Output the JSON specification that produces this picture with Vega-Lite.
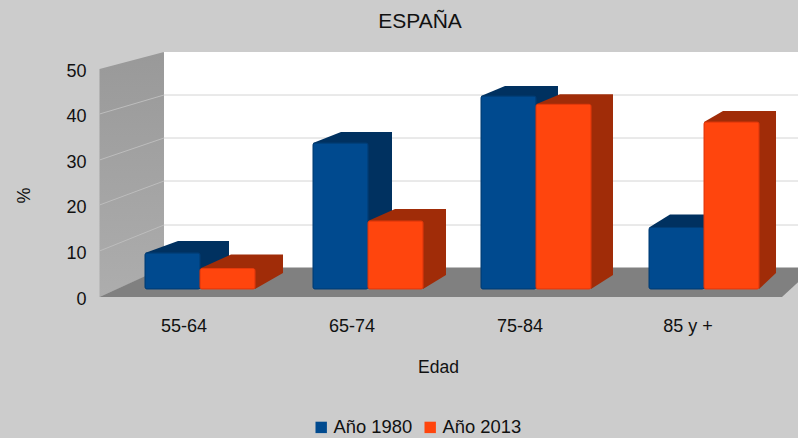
{"$schema":"https://vega.github.io/schema/vega-lite/v6.json","width":672,"height":228,"autosize":"none","padding":{"left":100,"right":26,"top":68,"bottom":142},"background":"#cccccc","config":{"view":{"stroke":null},"font":"Liberation Sans"},"title":{"text":"ESPAÑA","anchor":"middle","dx":-16,"offset":20,"fontSize":21,"fontWeight":"normal","color":"#111111","font":"Liberation Sans"},"datasets":{"barras":[{"Edad":"55-64","Serie":"Año 1980","Valor":7.9},{"Edad":"55-64","Serie":"Año 2013","Valor":4.5},{"Edad":"65-74","Serie":"Año 1980","Valor":32.0},{"Edad":"65-74","Serie":"Año 2013","Valor":14.9},{"Edad":"75-84","Serie":"Año 1980","Valor":42.3},{"Edad":"75-84","Serie":"Año 2013","Valor":40.5},{"Edad":"85 y +","Serie":"Año 1980","Valor":13.5},{"Edad":"85 y +","Serie":"Año 2013","Valor":36.6}],"ancla":[{"parte":"escena"}]},"resolve":{"scale":{"x":"independent","y":"independent","xOffset":"independent"}},"layer":[{"layer":[{"data":{"name":"ancla"},"mark":{"type":"point","shape":"M-21 -244L620 -244L620 -28L-21 -28Z","size":4,"filled":true,"fill":"#ffffff","opacity":1},"encoding":{"x":{"datum":"55-64","type":"nominal","scale":{"type":"band","domain":["55-64","65-74","75-84","85 y +"],"paddingInner":0,"paddingOuter":0},"axis":{"title":"Edad","titleFontSize":17.5,"titleFontWeight":"normal","titleColor":"#111111","titleX":338,"titleY":71,"titleBaseline":"middle","labelFontSize":18,"labelColor":"#111111","labelAngle":0,"labelBaseline":"middle","labelPadding":30,"ticks":false,"domain":false,"grid":false}},"y":{"datum":0,"type":"quantitative","scale":{"domain":[0,50]},"axis":{"title":"%","titleFontSize":18,"titleFontWeight":"normal","titleColor":"#111111","titleX":-76,"titleY":127,"titleAlign":"center","titleBaseline":"middle","values":[0,10,20,30,40,50],"labelFontSize":18,"labelColor":"#111111","labelPadding":14,"labelOffset":3,"ticks":false,"domain":false,"grid":false}}}},{"data":{"name":"ancla"},"mark":{"type":"point","shape":"M-84.5 -227L-20 -244L-20 -28L-84.5 1Z","size":4,"filled":true,"opacity":1,"fill":{"gradient":"linear","x1":0,"y1":0,"x2":0,"y2":1,"stops":[{"offset":0,"color":"#999999"},{"offset":1,"color":"#adadad"}]}},"encoding":{"x":{"datum":"55-64","type":"nominal"},"y":{"datum":0,"type":"quantitative"}}},{"data":{"name":"ancla"},"mark":{"type":"point","shape":"M-84.5 1L-20 -28.5L630 -28.5L598 1Z","size":4,"filled":true,"fill":"#808080","opacity":1},"encoding":{"x":{"datum":"55-64","type":"nominal"},"y":{"datum":0,"type":"quantitative"}}},{"data":{"name":"ancla"},"mark":{"type":"point","shape":"M-20 -201L620 -201M-20 -158L620 -158M-20 -115L620 -115M-20 -71L620 -71","size":4,"filled":false,"stroke":"#d4d4d4","strokeWidth":1,"opacity":1},"encoding":{"x":{"datum":"55-64","type":"nominal"},"y":{"datum":0,"type":"quantitative"}}},{"data":{"name":"ancla"},"mark":{"type":"point","shape":"M-84.5 -182L-20 -201M-84.5 -136L-20 -158M-84.5 -91L-20 -115M-84.5 -45L-20 -71","size":4,"filled":false,"stroke":"#bdbdbd","strokeWidth":1,"opacity":1},"encoding":{"x":{"datum":"55-64","type":"nominal"},"y":{"datum":0,"type":"quantitative"}}},{"data":{"name":"barras"},"transform":[{"calculate":"datum.Edad + ' ' + datum.Serie","as":"barra"},{"filter":"datum.Serie == 'Año 1980'"}],"mark":{"type":"point","size":4,"filled":true,"fill":"#003160","opacity":1},"encoding":{"x":{"field":"Edad","type":"nominal"},"xOffset":{"field":"Serie","type":"nominal","scale":{"type":"band","domain":["Año 1980","Año 2013"],"paddingInner":0,"paddingOuter":0.527}},"y":{"field":"Valor","type":"quantitative"},"shape":{"field":"barra","type":"nominal","legend":null,"scale":{"domain":["55-64 Año 1980","55-64 Año 2013","65-74 Año 1980","65-74 Año 2013","75-84 Año 1980","75-84 Año 2013","85 y + Año 1980","85 y + Año 2013"],"range":["M-11.5 -7L21.5 -19L72.5 -19L72.5 13L43.5 29Z","M-11.5 -7L19.5 -21L71.5 -21L71.5 -2.5L43.5 13.5Z","M-11.5 -7L16.5 -18L67.5 -18L67.5 125L43.5 139Z","M-11.5 -7L15.5 -19L66.5 -19L66.5 47L43.5 61Z","M-11.5 -7L12.5 -17L65.5 -17L65.5 172L43.5 186Z","M-11.5 -7L12.5 -17L65.5 -17L65.5 163.7L43.5 177.7Z","M-11.5 -7L9.5 -20L62.5 -20L62.5 40.7L43.5 54.7Z","M-11.5 -7L7.5 -18L60.5 -18L60.5 144L43.5 160Z"]}}}},{"data":{"name":"barras"},"transform":[{"calculate":"datum.Edad + ' ' + datum.Serie","as":"barra"},{"filter":"datum.Serie == 'Año 2013'"}],"mark":{"type":"point","size":4,"filled":true,"fill":"#a02c08","opacity":1},"encoding":{"x":{"field":"Edad","type":"nominal"},"xOffset":{"field":"Serie","type":"nominal"},"y":{"field":"Valor","type":"quantitative"},"shape":{"field":"barra","type":"nominal","legend":null}}}]},{"data":{"name":"barras"},"mark":{"type":"bar","cornerRadius":2,"strokeWidth":1,"stroke":{"expr":"datum.Serie == 'Año 1980' ? '#003e78' : '#e63a0c'"}},"encoding":{"x":{"field":"Edad","type":"nominal","axis":null,"scale":{"type":"band","domain":["55-64","65-74","75-84","85 y +"],"range":[16,688],"paddingInner":0,"paddingOuter":0}},"xOffset":{"field":"Serie","type":"nominal","scale":{"type":"band","domain":["Año 1980","Año 2013"],"paddingInner":0,"paddingOuter":0.527}},"y":{"field":"Valor","type":"quantitative","axis":null,"scale":{"domain":[0,50],"range":[221,-7]}},"color":{"field":"Serie","type":"nominal","title":null,"scale":{"domain":["Año 1980","Año 2013"],"range":["#004a8f","#ff450d"]},"legend":{"orient":"none","legendX":212,"legendY":350,"direction":"horizontal","symbolType":"square","symbolSize":130,"symbolStrokeWidth":0,"labelFontSize":18.4,"labelColor":"#111111","columnPadding":8,"labelOffset":3,"padding":0}}}}]}
